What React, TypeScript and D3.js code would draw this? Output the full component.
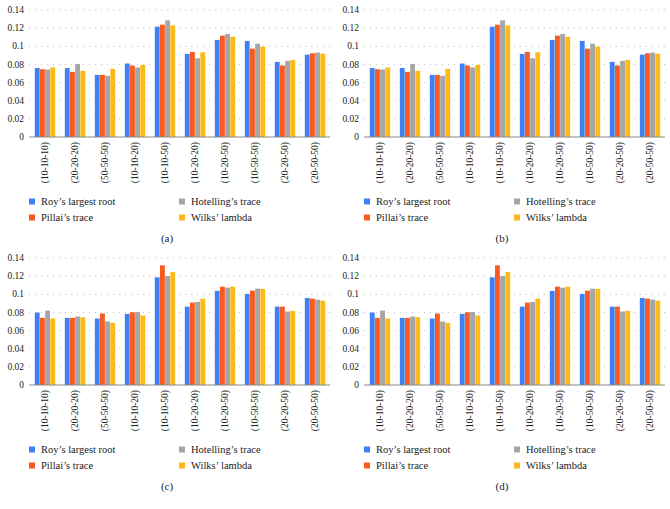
import React from "react";
import * as d3 from "d3";

const categories = ["(10-10-10)", "(20-20-20)", "(50-50-50)", "(10-10-20)", "(10-10-50)", "(10-20-20)", "(10-20-50)", "(10-50-50)", "(20-20-50)", "(20-50-50)"];
const seriesNames = ["Roy’s largest root", "Pillai’s trace", "Hotelling’s trace", "Wilks’ lambda"];
const seriesColors = ["#3F80F4", "#F85A1F", "#A6A6A6", "#FBBA18"];
const yTicks = [0, 0.02, 0.04, 0.06, 0.08, 0.1, 0.12, 0.14];
const tickLabels = ["0", "0.02", "0.04", "0.06", "0.08", "0.1", "0.12", "0.14"];

// panels (a) and (b)
const royAB = [0.076, 0.076, 0.0685, 0.081, 0.1216, 0.0916, 0.107, 0.1059, 0.0828, 0.0908];
const pillaiAB = [0.0747, 0.0718, 0.0685, 0.0788, 0.1238, 0.0938, 0.1117, 0.0974, 0.0788, 0.0923];
const hotellingAB = [0.0744, 0.0806, 0.0674, 0.0766, 0.1286, 0.0868, 0.1136, 0.1029, 0.0839, 0.093];
const wilksAB = [0.0766, 0.0729, 0.0751, 0.0795, 0.1231, 0.0934, 0.1106, 0.0996, 0.085, 0.0919];

// panels (c) and (d)
const royCD = [0.0799, 0.074, 0.0733, 0.0784, 0.1187, 0.0864, 0.1037, 0.1004, 0.0864, 0.096];
const pillaiCD = [0.074, 0.074, 0.0788, 0.0802, 0.1319, 0.0908, 0.1084, 0.104, 0.0864, 0.0952];
const hotellingCD = [0.082, 0.0755, 0.07, 0.0806, 0.1201, 0.0916, 0.1073, 0.1062, 0.081, 0.0941];
const wilksCD = [0.0733, 0.0747, 0.0685, 0.0766, 0.1245, 0.0952, 0.1084, 0.1059, 0.0817, 0.093];

const panelLabels = ["(a)", "(b)", "(c)", "(d)"];

const FONT = "'Liberation Serif', 'DejaVu Serif', serif";

function Panel({ series, label, dx, dy }: { series: number[][]; label: string; dx: number; dy: number }) {
  const y = d3.scaleLinear().domain([0, 0.14]).range([137, 10]);
  const x0 = d3.scaleBand<string>().domain(categories).range([30, 330]).paddingInner(0.3).paddingOuter(0.15);
  const x1 = d3.scaleBand<number>().domain(d3.range(4)).range([0, x0.bandwidth()]).padding(0.06);
  return (
    <g transform={`translate(${dx},${dy})`}>
      {yTicks.map((t, i) => (
        <g key={i}>
          {i > 0 && (
            <line x1={29} x2={330} y1={y(t)} y2={y(t)} stroke="#bdbdbd" strokeWidth={1} strokeDasharray="1,5" />
          )}
          <text x={24} y={y(t)} dy="0.33em" textAnchor="end" fontSize={9.5} fontFamily={FONT} fill="#222">
            {tickLabels[i]}
          </text>
        </g>
      ))}
      {categories.map((c, ci) => (
        <g key={c}>
          {series.map((s, si) => (
            <rect
              key={si}
              x={(x0(c) as number) + (x1(si) as number)}
              width={x1.bandwidth()}
              y={y(s[ci])}
              height={y(0) - y(s[ci])}
              fill={seriesColors[si]}
            />
          ))}
          <text
            transform={`translate(${(x0(c) as number) + x0.bandwidth() / 2},142) rotate(-90)`}
            textAnchor="end"
            dy="0.35em"
            fontSize={9.5}
            fontFamily={FONT}
            fill="#222"
          >
            {c}
          </text>
        </g>
      ))}
      <line x1={29} x2={330} y1={y(0)} y2={y(0)} stroke="#8a8a8a" strokeWidth={1.2} />
      {seriesNames.map((n, i) => {
        const col = i === 0 || i === 1 ? 0 : 1;
        const row = i === 0 || i === 2 ? 0 : 1;
        const lx = col === 0 ? 29 : 179;
        const ly = row === 0 ? 201.5 : 217.5;
        return (
          <g key={n}>
            <rect x={lx} y={ly - 3} width={6} height={6} fill={seriesColors[i]} />
            <text x={lx + 12} y={ly} dy="0.35em" fontSize={10.5} fontFamily={FONT} fill="#222">
              {n}
            </text>
          </g>
        );
      })}
      <text x={167} y={238} dy="0.35em" textAnchor="middle" fontSize={11} fontFamily={FONT} fill="#222">
        {label}
      </text>
    </g>
  );
}

export default function App() {
  const ab = [royAB, pillaiAB, hotellingAB, wilksAB];
  const cd = [royCD, pillaiCD, hotellingCD, wilksCD];
  return (
    <svg
      width={670}
      height={509}
      style={{ position: "absolute", left: 0, top: 0, background: "#fff" }}
    >
      <rect width={670} height={509} fill="#fff" />
      <Panel series={ab} label={panelLabels[0]} dx={0} dy={0} />
      <Panel series={ab} label={panelLabels[1]} dx={335} dy={0} />
      <Panel series={cd} label={panelLabels[2]} dx={0} dy={248} />
      <Panel series={cd} label={panelLabels[3]} dx={335} dy={248} />
    </svg>
  );
}
